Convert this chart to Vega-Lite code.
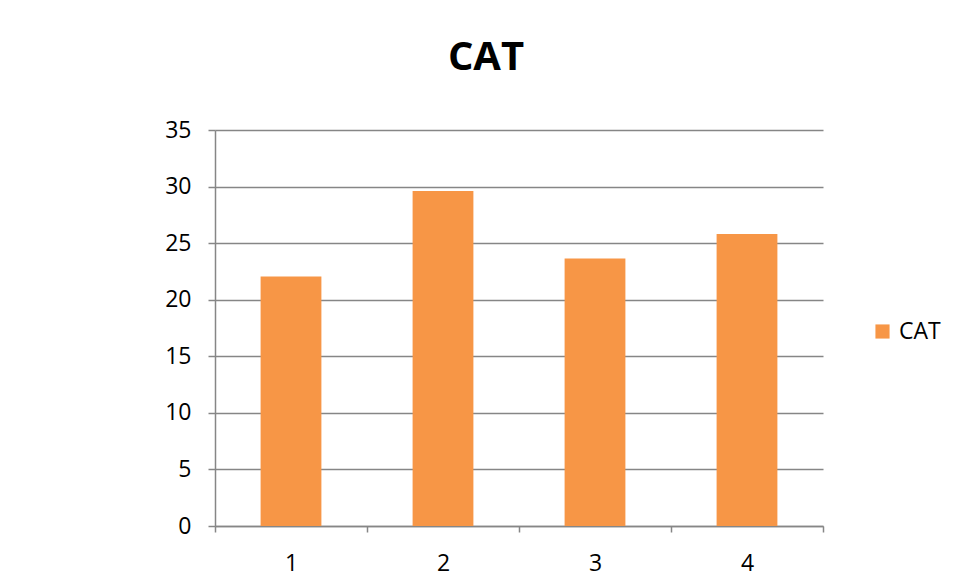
{
  "$schema": "https://vega.github.io/schema/vega-lite/v6.json",
  "autosize": "none",
  "width": 608,
  "height": 396,
  "padding": {"left": 215, "top": 130, "right": 135, "bottom": 52},
  "background": "white",
  "title": {
    "text": "CAT",
    "font": "Open Sans",
    "fontSize": 40,
    "fontWeight": "bold",
    "color": "black",
    "anchor": "middle",
    "dx": -33,
    "offset": 41
  },
  "data": {
    "values": [
      {"x": "1", "value": 22.05, "series": "CAT"},
      {"x": "2", "value": 29.6, "series": "CAT"},
      {"x": "3", "value": 23.65, "series": "CAT"},
      {"x": "4", "value": 25.8, "series": "CAT"}
    ]
  },
  "mark": {"type": "bar", "color": "#F79646", "width": {"band": 0.4}},
  "encoding": {
    "x": {
      "field": "x",
      "type": "ordinal",
      "title": null,
      "scale": {"paddingInner": 0, "paddingOuter": 0},
      "axis": {
        "labelAngle": 0,
        "labelFont": "Open Sans",
        "labelFontSize": 23,
        "labelColor": "black",
        "labelPadding": 20,
        "domainColor": "#868686",
        "domainWidth": 1.5,
        "tickColor": "#868686",
        "tickWidth": 1.5,
        "tickSize": 6,
        "tickBand": "extent",
        "grid": false
      }
    },
    "y": {
      "field": "value",
      "type": "quantitative",
      "title": null,
      "scale": {"domain": [0, 35], "nice": false},
      "axis": {
        "values": [0, 5, 10, 15, 20, 25, 30, 35],
        "labelFont": "Open Sans",
        "labelFontSize": 23,
        "labelColor": "black",
        "labelPadding": 17,
        "domainColor": "#868686",
        "domainWidth": 1.5,
        "tickColor": "#868686",
        "tickWidth": 1.5,
        "tickSize": 7,
        "gridColor": "#868686",
        "gridWidth": 1.5
      }
    },
    "fill": {
      "field": "series",
      "type": "nominal",
      "scale": {"range": ["#F79646"]},
      "legend": {
        "title": null,
        "orient": "none",
        "legendX": 656,
        "legendY": 190,
        "symbolType": "square",
        "symbolSize": 200,
        "symbolStrokeWidth": 0,
        "labelFont": "Open Sans",
        "labelFontSize": 23,
        "labelColor": "black",
        "labelOffset": 5
      }
    }
  },
  "config": {"view": {"stroke": null}}
}
